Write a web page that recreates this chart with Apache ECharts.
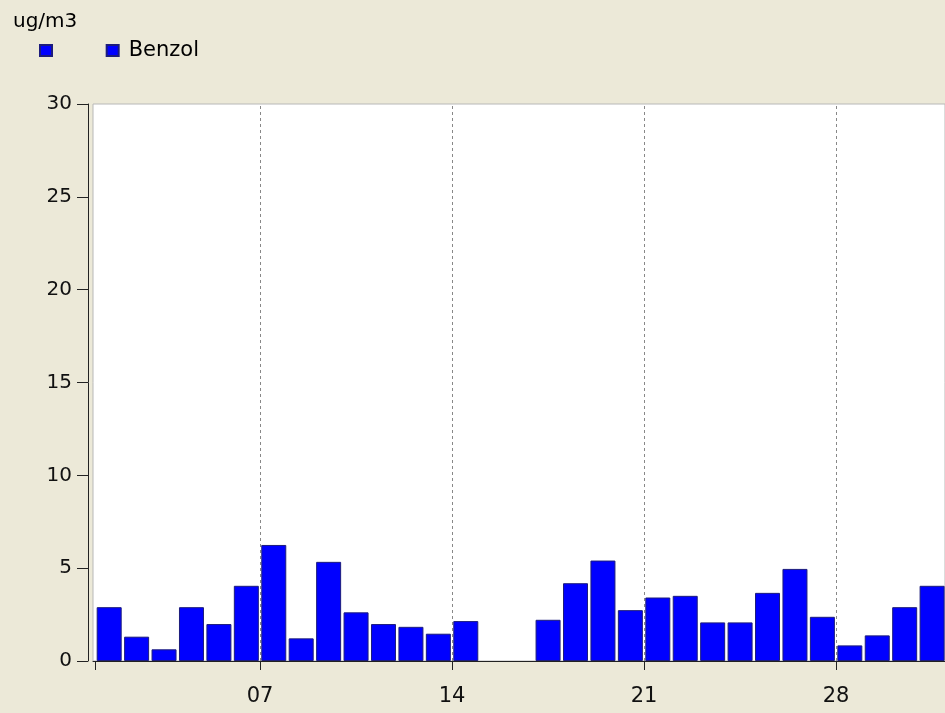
<!DOCTYPE html>
<html>
<head>
<meta charset="utf-8">
<script src="https://cdn.jsdelivr.net/npm/echarts@6/dist/echarts.min.js"></script>
<style>
  html, body { margin: 0; padding: 0; background: #ECE9D8; }
  #chart { width: 945px; height: 713px; }
</style>
</head>
<body>
<div id="chart"></div>
<script>
// daily means, day of month 1..31 (15 and 16 have no value)
var days = [1, 2, 3, 4, 5, 6, 7, 8, 9, 10, 11, 12, 13, 14, 15, 16,
            17, 18, 19, 20, 21, 22, 23, 24, 25, 26, 27, 28, 29, 30, 31];
var benzol = [2.9, 1.31, 0.63, 2.9, 1.99, 4.05, 6.25, 1.22, 5.34, 2.62, 1.99, 1.84, 1.47, 2.15, null, null,
              2.22, 4.19, 5.41, 2.74, 3.42, 3.51, 2.08, 2.08, 3.67, 4.96, 2.38, 0.84, 1.38, 2.9, 4.05];
var xTickDays = [1, 7, 14, 21, 28];
var xLabelDays = [7, 14, 21, 28];

var barData = [];
days.forEach(function (d, i) {
    if (benzol[i] != null) barData.push([d + 0.5, benzol[i]]);
});

var font = 'DejaVu Sans, Liberation Sans, sans-serif';
var chart = echarts.init(document.getElementById('chart'), null, { renderer: 'canvas' });

var option = {
    animation: false,
    backgroundColor: '#ECE9D8',
    title: {
        text: 'ug/m3',
        left: 13, top: 12, padding: 0,
        textStyle: { fontFamily: font, fontSize: 20, fontWeight: 'normal', color: '#000' }
    },
    legend: {
        data: [' ', 'Benzol'],
        left: 39, top: 40, padding: 0,
        icon: 'rect',
        itemWidth: 12, itemHeight: 11,
        itemGap: 37,
        textStyle: { fontFamily: font, fontSize: 21, color: '#000', padding: [0, 0, 0, 5] }
    },
    grid: {
        left: 93, top: 104, width: 852, height: 557,
        show: true, backgroundColor: '#fff', borderColor: '#b8b8b8', borderWidth: 1
    },
    xAxis: {
        type: 'value',
        min: 0.91, max: 31.97,
        offset: 3,
        axisLine: { show: true, lineStyle: { color: '#222', width: 1 } },
        axisTick: { show: true, length: 9, customValues: xTickDays, lineStyle: { color: '#222' } },
        axisLabel: {
            customValues: xLabelDays,
            margin: 22,
            fontFamily: font, fontSize: 21, color: '#111',
            formatter: function (v) { return (v < 10 ? '0' : '') + v; }
        },
        splitLine: { show: false }
    },
    yAxis: {
        type: 'value',
        min: 0, max: 30, interval: 5,
        offset: 5,
        axisLine: { show: true, lineStyle: { color: '#222', width: 1 } },
        axisTick: { show: true, length: 11, lineStyle: { color: '#222' } },
        axisLabel: { margin: 16, fontFamily: font, fontSize: 20, color: '#111' },
        splitLine: { show: false }
    },
    series: [
        {
            name: ' ',
            type: 'bar',
            stack: 'day',
            data: [],
            itemStyle: { color: '#0000FF', borderColor: '#1c1c7c', borderWidth: 1 }
        },
        {
            name: 'Benzol',
            type: 'bar',
            stack: 'day',
            barWidth: 25,
            data: barData,
            itemStyle: { color: '#0000FF', borderColor: '#1c1c7c', borderWidth: 1 },
            markLine: {
                silent: true,
                symbol: ['none', 'none'],
                label: { show: false },
                lineStyle: { color: '#888', type: [3, 3], width: 1 },
                data: xLabelDays.map(function (d) { return { xAxis: d }; })
            }
        }
    ]
};

chart.setOption(option);
</script>
</body>
</html>
